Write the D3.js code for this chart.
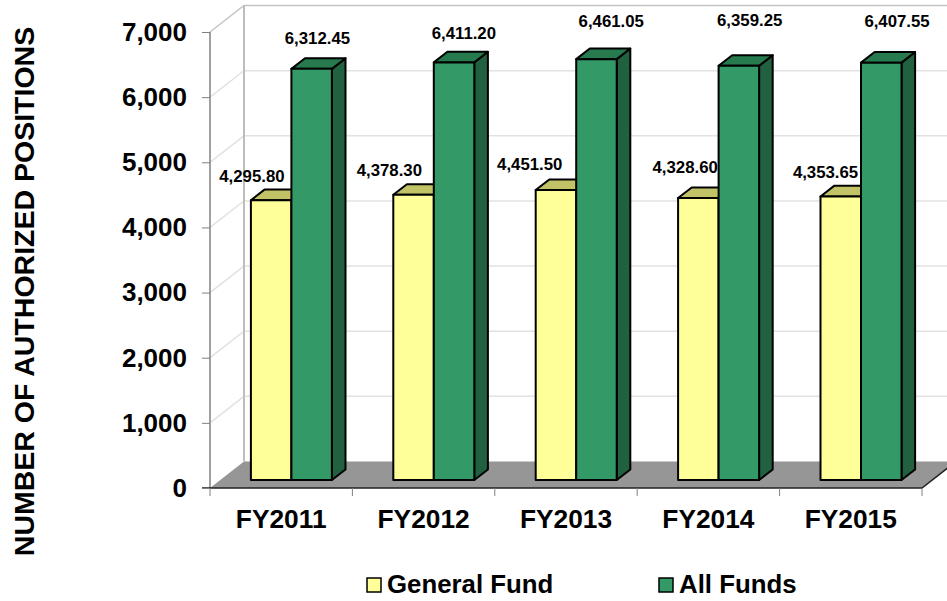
<!DOCTYPE html>
<html>
<head>
<meta charset="utf-8">
<script src="https://cdn.jsdelivr.net/npm/d3@7/dist/d3.min.js"></script>
<style>
  html, body { margin: 0; padding: 0; background: #fff; overflow: hidden; }
  svg { display: block; }
  text { font-family: "Liberation Sans", Arial, sans-serif; font-weight: bold; fill: #000; }
</style>
</head>
<body>
<svg id="chart" width="947" height="601"></svg>
<script>
const fiscalYears = ["FY2011", "FY2012", "FY2013", "FY2014", "FY2015"];
const generalFund = [4295.80, 4378.30, 4451.50, 4328.60, 4353.65];
const allFunds = [6312.45, 6411.20, 6461.05, 6359.25, 6407.55];
const seriesNames = ["General Fund", "All Funds"];
const valueTicks = [0, 1000, 2000, 3000, 4000, 5000, 6000, 7000];

const svg = d3.select("#chart");

const y = d3.scaleLinear().domain([0, 7000]).range([488, 32]);
const x = d3.scaleBand().domain(fiscalYears).range([210, 922]);

// Oblique projection: depth 0 is the front edge of the floor, 1 the back wall.
const DEPTH_X = 34, DEPTH_Y = 26.5;
const px = (sx, d) => sx + DEPTH_X * d;
const py = (sy, d) => sy - DEPTH_Y * d;
const poly = pts => pts.map(p => p.join(",")).join(" ");

const walls = svg.append("g");
const right = 922;

// floor
walls.append("polygon")
  .attr("points", poly([[210, 488], [right, 488], [px(right, 1), py(488, 1)], [px(210, 1), py(488, 1)]]))
  .attr("fill", "#969696");

// gridlines along the side wall and the back wall
const grid = walls.append("g").attr("fill", "none").attr("stroke-width", 1.5);
valueTicks.filter(v => v > 0).forEach(v => {
  grid.append("path")
    .attr("d", `M210,${y(v)}L${px(210, 1)},${py(y(v), 1)}L${px(right, 1)},${py(y(v), 1)}`)
    .attr("stroke", v === 7000 ? "#c4c4c4" : "#e2e2e2");
});

// back wall corner and front-left axis
walls.append("line")
  .attr("x1", px(210, 1)).attr("x2", px(210, 1))
  .attr("y1", py(y(7000), 1)).attr("y2", py(488, 1))
  .attr("stroke", "#bdbdbd").attr("stroke-width", 2);
walls.append("line")
  .attr("x1", 210).attr("x2", 210).attr("y1", y(7000)).attr("y2", 488)
  .attr("stroke", "#808080").attr("stroke-width", 1.5);

// floor front and right edges
walls.append("path")
  .attr("d", `M202,488H${right}L${px(right, 1)},${py(488, 1)}`)
  .attr("fill", "none").attr("stroke", "#222").attr("stroke-width", 1.5);

// category ticks hang from the band edges
svg.append("g").selectAll("line")
  .data(d3.range(fiscalYears.length + 1))
  .join("line")
  .attr("x1", i => 210 + i * x.bandwidth()).attr("x2", i => 210 + i * x.bandwidth())
  .attr("y1", 488).attr("y2", 496)
  .attr("stroke", "#808080").attr("stroke-width", 1);

// value axis
const yAxis = svg.append("g")
  .attr("transform", "translate(210,0)")
  .call(d3.axisLeft(y).tickValues(valueTicks).tickFormat(d3.format(",")).tickSize(8).tickPadding(15));
yAxis.select(".domain").remove();
yAxis.selectAll(".tick line").attr("stroke", "#808080").attr("stroke-width", 1);
yAxis.selectAll("text").attr("font-size", 26);

// category axis
const xAxis = svg.append("g")
  .attr("transform", "translate(0,488)")
  .call(d3.axisBottom(x).tickSize(0).tickPadding(21));
xAxis.select(".domain").remove();
xAxis.selectAll("text").attr("font-size", 26.3);

// rotated value-axis title
svg.append("text")
  .attr("transform", "translate(33.5,291.5) rotate(-90)")
  .attr("text-anchor", "middle")
  .attr("font-size", 28.5)
  .text("NUMBER OF AUTHORIZED POSITIONS");

// bars: each is a front face, a top and a right side between two depths
const BAR_D0 = 0.3, BAR_D1 = 0.7, BAR_W = 40.5;
const series = [
  { values: generalFund, front: "#ffff99", top: "#c2c266", side: "#b5b55c", col: 0 },
  { values: allFunds, front: "#339966", top: "#267a4e", side: "#216140", col: 1 }
];
const barsLayer = svg.append("g").attr("stroke", "#000").attr("stroke-width", 2).attr("stroke-linejoin", "round");

series.forEach(s => {
  fiscalYears.forEach((fy, i) => {
    const left = x(fy) + x.bandwidth() / 2 - BAR_W + s.col * BAR_W;
    const xa = px(left, BAR_D0), xb = xa + BAR_W;
    const dx = DEPTH_X * (BAR_D1 - BAR_D0), dy = DEPTH_Y * (BAR_D1 - BAR_D0);
    const base = py(y(0), BAR_D0), top = py(y(s.values[i]), BAR_D0);
    barsLayer.append("polygon")
      .attr("points", poly([[xb, top], [xb + dx, top - dy], [xb + dx, base - dy], [xb, base]]))
      .attr("fill", s.side);
    barsLayer.append("polygon")
      .attr("points", poly([[xa, top], [xa + dx, top - dy], [xb + dx, top - dy], [xb, top]]))
      .attr("fill", s.top);
    barsLayer.append("rect")
      .attr("x", xa).attr("y", top).attr("width", BAR_W).attr("height", base - top)
      .attr("fill", s.front);
  });
});

// value labels, nudged by hand relative to each bar
const labelFormat = d3.format(",.2f");
const generalNudge = [[-19, -18], [-24, -19], [-26, -20], [-13, -25], [-15, -18]];
const allNudge = [[6, -25], [10, -23], [15, -32], [11, -40], [16, -36]];
const labels = svg.append("g").attr("text-anchor", "middle").attr("font-size", 16.8);
[[generalFund, generalNudge, -BAR_W / 2], [allFunds, allNudge, BAR_W / 2]].forEach(([vals, nudge, off]) => {
  fiscalYears.forEach((fy, i) => {
    labels.append("text")
      .attr("x", x(fy) + x.bandwidth() / 2 + 10 + off + nudge[i][0])
      .attr("y", py(y(vals[i]), BAR_D0) + nudge[i][1])
      .text(labelFormat(vals[i]));
  });
});

// legend
const legend = svg.append("g");
const legendX = [367, 659];
seriesNames.forEach((name, i) => {
  legend.append("rect")
    .attr("x", legendX[i]).attr("y", 578).attr("width", 14).attr("height", 14)
    .attr("fill", series[i].front).attr("stroke", "#000").attr("stroke-width", 1.5);
  legend.append("text")
    .attr("x", legendX[i] + 20).attr("y", 593)
    .attr("font-size", 25.8)
    .text(name);
});
</script>
</body>
</html>
